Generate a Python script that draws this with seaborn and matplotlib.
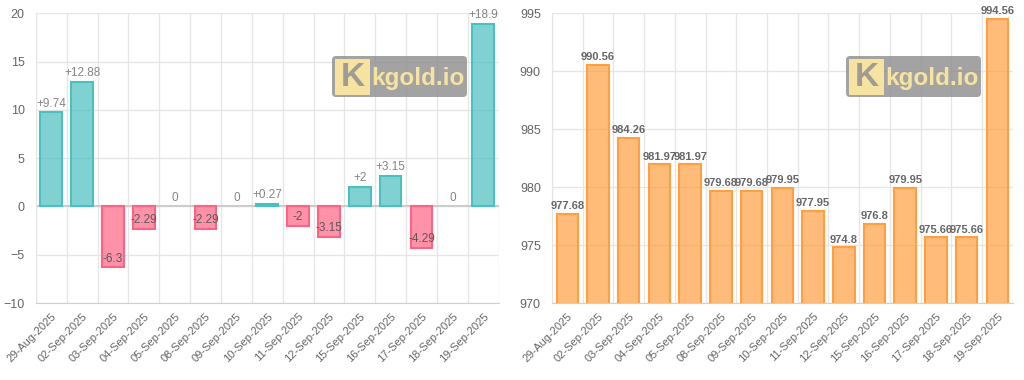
import matplotlib
matplotlib.use('Agg')
import matplotlib.pyplot as plt
from matplotlib.patches import FancyBboxPatch, Rectangle
import seaborn as sns
import pandas as pd
import numpy as np

# Data
dates = ['29-Aug-2025', '02-Sep-2025', '03-Sep-2025', '04-Sep-2025', '05-Sep-2025',
         '08-Sep-2025', '09-Sep-2025', '10-Sep-2025', '11-Sep-2025', '12-Sep-2025',
         '15-Sep-2025', '16-Sep-2025', '17-Sep-2025', '18-Sep-2025', '19-Sep-2025']
changes = [9.74, 12.88, -6.3, -2.29, 0, -2.29, 0, 0.27, -2, -3.15, 2, 3.15, -4.29, 0, 18.9]
prices = [977.68, 990.56, 984.26, 981.97, 981.97, 979.68, 979.68, 979.95, 977.95,
          974.8, 976.8, 979.95, 975.66, 975.66, 994.56]
left_ticks = [-10, -5, 0, 5, 10, 15, 20]
right_ticks = [970, 975, 980, 985, 990, 995]

# Colours (chart.js style)
TEAL = (75/255, 192/255, 192/255)
PINK = (255/255, 99/255, 132/255)
ORANGE = (255/255, 159/255, 64/255)
GRID = '#e6e6e6'
TXT = '#666666'

sns.set_style('white')
plt.rcParams['font.family'] = ['Liberation Sans', 'DejaVu Sans']

fig = plt.figure(figsize=(10.24, 3.8), dpi=100)
ax1 = fig.add_axes([0.035, 0.2026, 0.452, 0.762])
ax2 = fig.add_axes([0.539, 0.2026, 0.450, 0.762])

df1 = pd.DataFrame({'date': dates, 'change': changes})
df1['dir'] = np.where(df1['change'] >= 0, 'up', 'down')
df2 = pd.DataFrame({'date': dates, 'price': prices})

sns.barplot(data=df1, x='date', y='change', hue='dir', dodge=False, legend=False,
            palette={'up': TEAL + (0.7,), 'down': PINK + (0.7,)},
            saturation=1, width=0.7, ax=ax1, zorder=3)
sns.barplot(data=df2, x='date', y='price', color=ORANGE + (0.7,), saturation=1,
            width=0.7, ax=ax2, zorder=3)

for p in ax1.patches:
    h = p.get_height()
    if abs(h) < 1e-9:
        p.set_visible(False)
        continue
    p.set_edgecolor(TEAL if h > 0 else PINK)
    p.set_linewidth(1.5)
for p in ax2.patches:
    p.set_edgecolor(ORANGE)
    p.set_linewidth(1.5)

# Bar labels
for i, v in enumerate(changes):
    lab = f'+{v:g}' if v > 0 else f'{v:g}'
    col = '#858585' if v >= 0 else '#5a5a5a'
    ax1.annotate(lab, (i, v), xytext=(0, 2), textcoords='offset points',
                 ha='center', va='bottom', fontsize=8.5, color=col, zorder=5)
for i, v in enumerate(prices):
    ax2.annotate(f'{v:g}', (i, v), xytext=(0, 2), textcoords='offset points',
                 ha='center', va='bottom', fontsize=8, fontweight='bold',
                 color=TXT, zorder=5)


def style_axes(ax, ticks, lo, hi):
    n = len(dates)
    ax.set_xlim(-0.5, n - 0.5)
    ax.set_ylim(lo, hi)
    ax.set_yticks(ticks)
    ax.set_xticks(range(n))
    ax.set_xticklabels(dates, rotation=45, ha='right', rotation_mode='anchor',
                       fontsize=8, color=TXT)
    ax.set_xticks(np.arange(-0.5, n, 1.0), minor=True)
    ax.tick_params(axis='x', which='major', length=0, pad=6)
    ax.tick_params(axis='x', which='minor', length=6, color=GRID, width=1)
    ax.tick_params(axis='y', length=5, color=GRID, labelsize=9, labelcolor=TXT, pad=3)
    ax.grid(True, axis='y', color=GRID, linewidth=1, zorder=0)
    ax.grid(True, axis='x', which='minor', color=GRID, linewidth=1, zorder=0)
    ax.grid(False, axis='x', which='major')
    ax.set_xlabel('')
    ax.set_ylabel('')
    for s in ['top', 'right']:
        ax.spines[s].set_visible(False)
    ax.spines['left'].set_color(GRID)
    ax.spines['bottom'].set_color('#d0d0d0')
    ax.set_axisbelow(True)


style_axes(ax1, left_ticks, -10, 20)
style_axes(ax2, right_ticks, 970, 995)
ax1.axhline(0, color='#cccccc', linewidth=1.5, zorder=2)


def watermark(x_px, y_px):
    w, h = 135, 41
    wax = fig.add_axes([x_px / 1024, (380 - y_px - h) / 380, w / 1024, h / 380])
    wax.set_xlim(0, w)
    wax.set_ylim(0, h)
    wax.axis('off')
    wax.add_patch(FancyBboxPatch((0, 0), w, h, boxstyle='round,pad=0,rounding_size=4',
                                 facecolor='#8c8c8c', edgecolor='none', alpha=0.8))
    wax.add_patch(Rectangle((3, 2), 35, 36, facecolor='#f6e3a1', edgecolor='none'))
    wax.text(21, 19, 'K', fontsize=24, fontweight='bold', color='#a09c92',
             ha='center', va='center')
    wax.text(39, 18, 'kgold.io', fontsize=17.5, fontweight='bold', color='#f6e3a1',
             ha='left', va='center')


watermark(332, 56)
watermark(846, 56)

fig.savefig('out.png', dpi=100)
